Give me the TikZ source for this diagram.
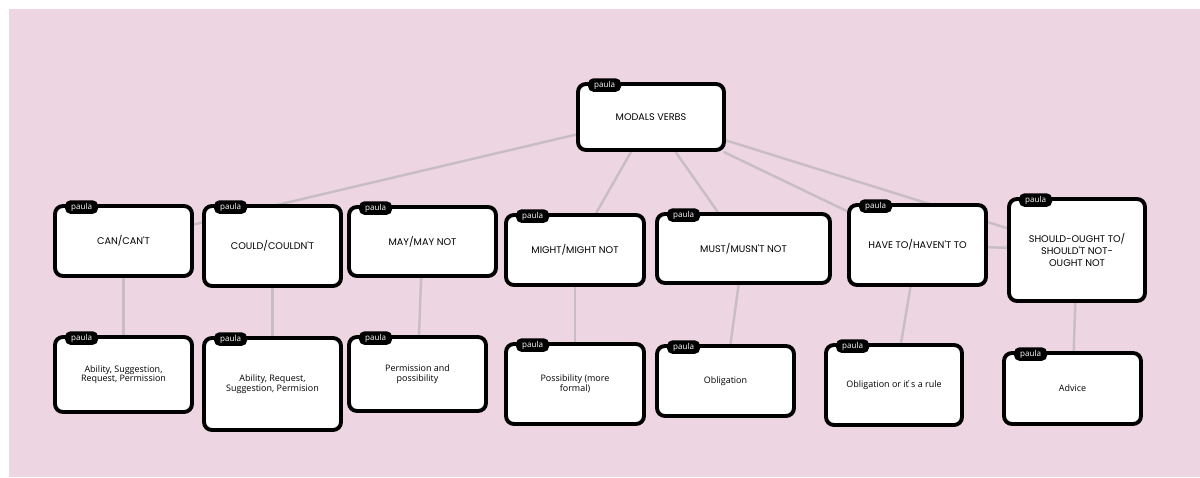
\documentclass[tikz,border=0pt]{standalone}
\usepackage{fontspec}
\setmainfont{Open Sans}
\newfontfamily\capsfont{Poppins}
\usepackage{tikz}
\usetikzlibrary{backgrounds}
\definecolor{mapbg}{HTML}{EDD5E2}
\definecolor{linkgray}{HTML}{C8BDC5}

\begin{document}
\begin{tikzpicture}[x=0.02cm,y=-0.02cm,
    modal/.style={draw,line width=2.2pt,fill=white,rounded corners=4.5pt,
      align=center,inner sep=2pt,font=\capsfont\fontsize{5.5}{6.6}\selectfont},
    use/.style={modal,font=\fontsize{5.1}{5.4}\selectfont},
    tab/.style={fill=black,rounded corners=3pt,minimum width=0.66cm,
      minimum height=0.27cm,inner sep=0pt,text=white,
      font=\fontsize{4.6}{5}\selectfont},
    link/.style={draw=linkgray,line width=1.4pt}]
    \useasboundingbox (0,0) rectangle (1200,477);

    % top row
    \node[modal,minimum width=2.92cm,minimum height=1.32cm] (modals) at (651,117) {MODALS VERBS};
    \node[modal,minimum width=2.74cm,minimum height=1.40cm] (can) at (123.5,241) {CAN/CAN'T};
    \node[modal,minimum width=2.74cm,minimum height=1.60cm] (could) at (272.5,246) {COULD/COULDN'T};
    \node[modal,minimum width=2.94cm,minimum height=1.38cm] (may) at (422.5,241.5) {MAY/MAY NOT};
    \node[modal,minimum width=2.76cm,minimum height=1.40cm] (might) at (575,250) {MIGHT/MIGHT NOT};
    \node[modal,minimum width=3.46cm,minimum height=1.38cm] (must) at (743.5,248.5) {MUST/MUSN'T NOT};
    \node[modal,minimum width=2.74cm,minimum height=1.60cm] (have) at (917.5,245) {HAVE TO/HAVEN'T TO};
    \node[modal,minimum width=2.72cm,minimum height=2.04cm] (should) at (1077,250)
      {SHOULD-OUGHT TO/\\SHOULD'T NOT-\\OUGHT NOT};

    % uses
    \node[use,minimum width=2.74cm,minimum height=1.50cm] (canx) at (123.5,374.5)
      {Ability, Suggestion,\\Request, Permission};
    \node[use,minimum width=2.74cm,minimum height=1.84cm] (couldx) at (272.5,384)
      {Ability, Request,\\Suggestion, Permision};
    \node[use,minimum width=2.74cm,minimum height=1.48cm] (mayx) at (417.5,374)
      {Permission and\\possibility};
    \node[use,minimum width=2.76cm,minimum height=1.60cm] (mightx) at (575,384)
      {Possibility (more\\formal)};
    \node[use,minimum width=2.74cm,minimum height=1.40cm] (mustx) at (725.5,381) {Obligation};
    \node[use,minimum width=2.72cm,minimum height=1.60cm] (havex) at (894,385) {Obligation or it\'{}s a rule};
    \node[use,minimum width=2.74cm,minimum height=1.42cm] (shouldx) at (1072.5,388.5) {Advice};

    \foreach \n in {modals,can,could,may,might,must,have,should,
                    canx,couldx,mayx,mightx,mustx,havex,shouldx}
      \node[tab] (\n tab) at ([xshift=0.57cm,yshift=-0.06cm]\n.north west) {paula};

    \begin{pgfonlayer}{background}
      \fill[white] (0,0) rectangle (1200,477);
      \fill[mapbg] (9,9) rectangle (1200,477);
      \foreach \a/\b in {modals/can,modals/might,modals/must,modals/have,modals/should,
                         have/should,can/canx,could/couldx,may/mayx,might/mightx,
                         must/mustx,have/havex,should/shouldx}
        \draw[link] (\a) -- (\b);
    \end{pgfonlayer}
  \end{tikzpicture}
\end{document}
